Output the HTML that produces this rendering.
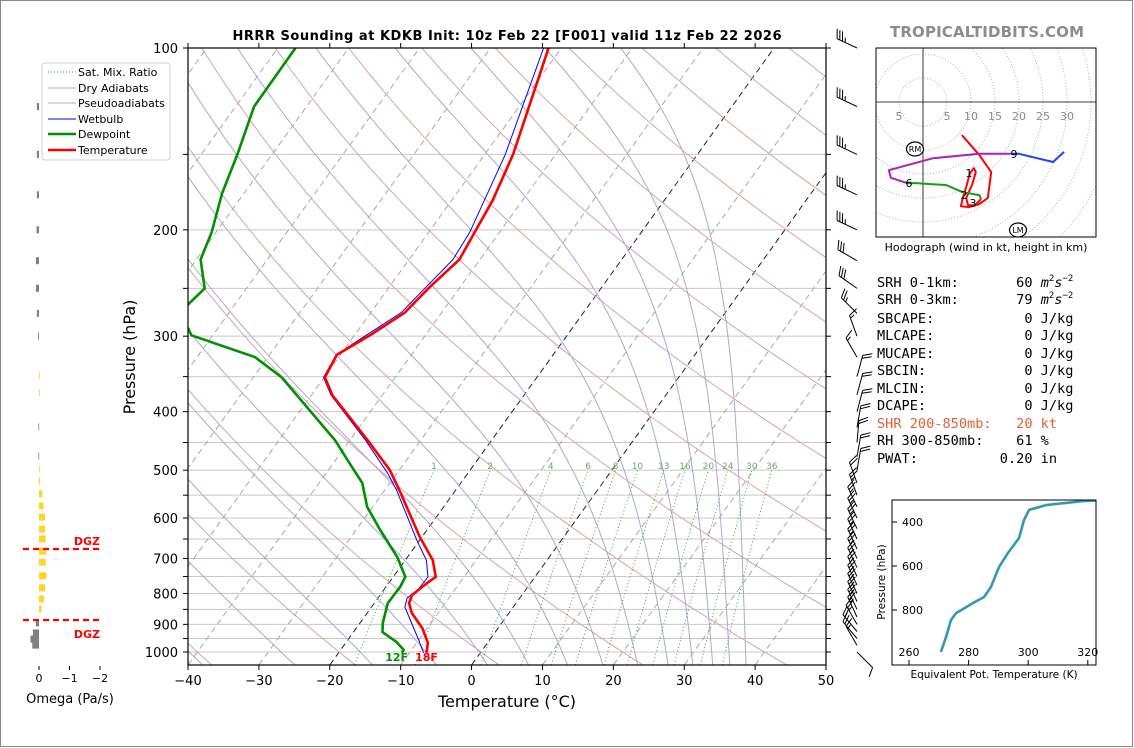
<!DOCTYPE html>
<html><head><meta charset="utf-8"><style>
html,body{margin:0;padding:0;background:#fff}
svg{display:block}
text{font-family:"DejaVu Sans","Liberation Sans",sans-serif}
.mono{font-family:"DejaVu Sans Mono","Liberation Mono",monospace}
</style></head><body>
<svg id="root" width="1134" height="748" viewBox="0 0 1134 748" xmlns="http://www.w3.org/2000/svg">
<rect x="0.5" y="0.5" width="1132" height="746" fill="#fff" stroke="#8a8a8a"/>
<defs>
<clipPath id="skewclip"><rect x="188" y="48" width="638" height="617"/></clipPath>
<clipPath id="hodoclip"><rect x="876" y="48" width="220" height="189"/></clipPath>
<clipPath id="theclip"><rect x="892" y="500" width="204" height="165"/></clipPath>
</defs>
<text x="507" y="40" text-anchor="middle" font-size="13" font-weight="bold" textLength="549">HRRR Sounding at KDKB Init: 10z Feb 22 [F001] valid 11z Feb 22 2026</text>
<text x="987" y="37" text-anchor="middle" font-size="15" font-weight="bold" fill="#8c8c8c" textLength="194">TROPICALTIDBITS.COM</text>
<g id="skew" clip-path="url(#skewclip)"></g>
<g id="skewaxes"></g>
<g id="barbs"></g>
<g id="omega"></g>
<g id="hodo"></g>
<g id="thetae"></g>
<g id="stats" class="mono" font-size="13.6">
<text class="mono" x="877" y="287" xml:space="preserve">SRH 0-1km:       60 <tspan font-style="italic">m</tspan><tspan font-size="9" dy="-6">2</tspan><tspan font-style="italic" dy="6">s</tspan><tspan font-size="9" dy="-6">−2</tspan></text>
<text class="mono" x="877" y="304" xml:space="preserve">SRH 0-3km:       79 <tspan font-style="italic">m</tspan><tspan font-size="9" dy="-6">2</tspan><tspan font-style="italic" dy="6">s</tspan><tspan font-size="9" dy="-6">−2</tspan></text>
<text class="mono" x="877" y="323" xml:space="preserve">SBCAPE:           0 J/kg</text>
<text class="mono" x="877" y="340" xml:space="preserve">MLCAPE:           0 J/kg</text>
<text class="mono" x="877" y="358" xml:space="preserve">MUCAPE:           0 J/kg</text>
<text class="mono" x="877" y="375" xml:space="preserve">SBCIN:            0 J/kg</text>
<text class="mono" x="877" y="393" xml:space="preserve">MLCIN:            0 J/kg</text>
<text class="mono" x="877" y="410" xml:space="preserve">DCAPE:            0 J/kg</text>
<text class="mono" x="877" y="428" fill="#e35f36" xml:space="preserve">SHR 200-850mb:   20 kt</text>
<text class="mono" x="877" y="445" xml:space="preserve">RH 300-850mb:    61 %</text>
<text class="mono" x="877" y="463" xml:space="preserve">PWAT:          0.20 in</text>
</g>
<g id="legend">
<rect x="42" y="63" width="128" height="97" rx="3" fill="#fff" fill-opacity="0.85" stroke="#d0d0d0"/>
<line x1="48" y1="72" x2="76" y2="72" stroke="#4a9a4a" stroke-dasharray="1,2"/>
<text x="78" y="76" font-size="11">Sat. Mix. Ratio</text>
<line x1="48" y1="88" x2="76" y2="88" stroke="#d9a3a3"/>
<text x="78" y="92" font-size="11">Dry Adiabats</text>
<line x1="48" y1="103" x2="76" y2="103" stroke="#a8a8d8"/>
<text x="78" y="107" font-size="11">Pseudoadiabats</text>
<line x1="48" y1="119" x2="76" y2="119" stroke="#0000ff"/>
<text x="78" y="123" font-size="11">Wetbulb</text>
<line x1="48" y1="134" x2="76" y2="134" stroke="#009000" stroke-width="2.5"/>
<text x="78" y="138" font-size="11">Dewpoint</text>
<line x1="48" y1="150" x2="76" y2="150" stroke="#ff0000" stroke-width="2.5"/>
<text x="78" y="154" font-size="11">Temperature</text>
</g>
</svg>
<script>
// ---------- data ----------
const tempP = [1003,966,913,862,830,805,769,751,705,645,540,500,446,376,351,322,299,274,249,224,202,179,150,100];
const tempT = [-7.6,-8.4,-10.7,-13.7,-15.1,-15.5,-14.6,-14.0,-16.1,-20.3,-27.9,-31.3,-37.5,-47.0,-49.9,-50.5,-47.8,-45.2,-44.3,-42.9,-43.5,-44.2,-46.0,-51.8];
const dewP = [1003,992,963,927,895,830,780,751,697,628,575,525,487,446,351,325,299,291,280,266,250,224,202,174,150,125,100];
const dewT = [-11.1,-11.1,-12.9,-15.9,-16.8,-18.1,-18.0,-18.3,-21.4,-26.6,-30.8,-33.9,-37.7,-42.1,-56.0,-61.8,-73.0,-74.2,-80.0,-76.6,-75.9,-79.4,-80.6,-83.1,-84.9,-87.4,-87.5];
const wbP = [1003,955,909,842,814,787,751,705,653,540,506,446,376,351,322,274,224,202,150,100];
const wbT = [-8.0,-10.0,-12.1,-15.3,-15.9,-15.2,-15.1,-17.0,-20.4,-28.3,-31.3,-37.8,-47.2,-50.1,-50.6,-45.7,-43.8,-44.2,-47.1,-52.5];
const mixRatios = [1,2,4,6,8,10,13,16,20,24,30,36];
const isobars = [100,150,200,250,300,350,400,450,500,550,600,650,700,750,800,850,900,950,1000];
const pTickLabels = [100,200,300,400,500,600,700,800,900,1000];
const tTickLabels = [-40,-30,-20,-10,0,10,20,30,40,50];
const dryT0 = [-60,-40,-20,0,20,40,60,80,100,120,140,160,180,200,220,240];
const moistT0 = [-38,-25,-14,-5,2.2,8,13.5,18.5,23.4,27.7,31.2,34,36.4,38.7];
const barbP = [100,125,150,175,200,225,250,275,300,325,350,375,400,425,450,475,500,525,550,575,600,625,650,675,700,725,750,775,800,825,850,875,900,925,950,975,1000];
const barbDir = [295,295,295,295,295,300,305,315,340,330,15,15,15,10,5,10,10,340,340,335,335,335,335,335,335,335,335,335,335,335,335,335,330,320,320,330,135];
const barbSpd = [35,35,35,35,35,30,30,25,15,15,20,20,20,20,20,20,20,20,25,25,25,25,25,25,25,25,25,25,25,25,25,25,25,20,20,15,10];
const omegaP = [125,150,175,200,225,250,275,300,349,372,424,474,498,521,547,573,598,626,650,681,710,748,783,817,849,895,930,952,974];
const omegaVal = [0.07,0.07,0.07,0.08,0.1,0.1,0.07,0.03,-0.02,-0.02,0.02,0.02,-0.02,-0.04,-0.11,-0.15,-0.2,-0.2,-0.22,-0.23,-0.22,-0.24,-0.2,-0.16,-0.08,0.1,0.2,0.28,0.22];
const omegaTicks = [0,-1,-2];
const hodoRedU = [8.1,11.7,14.2,13.5,11.7,9.6,7.9,8.3,9.0,9.8,10.6,11.0,10.2,9.0,9.4,10.8,12.1];
const hodoRedV = [-6.9,-11.0,-14.6,-20.0,-21.3,-21.9,-21.7,-20.0,-17.7,-14.8,-13.8,-14.6,-17.3,-20.0,-21.5,-21.5,-20.2];
const hodoGreenU = [12.1,11.7,8.3,4.8,1.5,-1.5,-3.3];
const hodoGreenV = [-20.2,-19.4,-18.8,-17.3,-17.1,-16.9,-16.9];
const hodoPurpleU = [-3.3,-6.7,-7.1,2.1,11.7,18.3];
const hodoPurpleV = [-16.9,-15.8,-14.2,-11.7,-10.8,-10.8];
const hodoBlueU = [18.3,20.0,22.9,27.1,29.4];
const hodoBlueV = [-10.8,-10.8,-11.5,-12.5,-10.4];
const hodoRingLabels = [-5,5,10,15,20,25,30];
const thetaE = [270.7,272.4,274.1,275.8,281.5,285.2,287.5,290.2,293.2,296.9,298.6,300.3,306,318.4,330];
const thetaEP = [991,923,845,814,768,741,695,605,541,473,391,345,323,305,298];
const thetaXTicks = [260,280,300,320];
const thetaYTicks = [400,600,800];

// ---------- helpers ----------
const NS = 'http://www.w3.org/2000/svg';
function mk(tag, parent, attrs){const e=document.createElementNS(NS,tag);for(const k in attrs)e.setAttribute(k,attrs[k]);parent.appendChild(e);return e;}
const yP = p => 652 + 604*Math.log10(p/1000);
const xT = (T,p) => 188 + (T+40)*7.089 + 0.72*(665 - yP(p));
const skew = document.getElementById('skew');
const axes = document.getElementById('skewaxes');
function polyPts(Ps,Ts){return Ps.map((p,i)=>xT(Ts[i],p).toFixed(1)+','+yP(p).toFixed(1)).join(' ');}

isobars.forEach(p=>{
  const l=mk('line',skew,{x1:188,x2:826,y1:yP(p),y2:yP(p),stroke:'#c8c8c8','stroke-width':1});
  
  
});
for(let T=-140;T<=50;T+=10){
  const blk=(T===0||T===-20);
  const l=mk('line',skew,{x1:xT(T,1050),y1:yP(1050),x2:xT(T,100),y2:yP(100),stroke:blk?'#222':'#a8a8a8','stroke-width':1,'stroke-dasharray':'6,4'});
  
  
}
dryT0.forEach(t0=>{
  const Ps=[],Ts=[];
  for(let p=1050;p>=100;p-=10){Ps.push(p);Ts.push((t0+273.15)*Math.pow(p/1000,0.286)-273.15);}
  const l=mk('polyline',skew,{points:polyPts(Ps,Ts),fill:'none',stroke:'#d9a3a3','stroke-width':1});
  
  
});
function es(T){return 6.112*Math.exp(17.67*T/(T+243.5));}
function dTdp(p,TK){const Tc=TK-273.15;const e=es(Tc);const rs=0.622*e/(p-e);
  return (287.04*TK+2.501e6*rs)/(p*(1005.7+2.501e6*2.501e6*rs*0.622/(287.04*TK*TK)));}
moistT0.forEach(t0=>{
  const Ps=[1050],Ts=[t0];let T=t0+273.15;
  for(let p=1050;p>100;p-=5){const h=-5;
    const k1=dTdp(p,T),k2=dTdp(p+h/2,T+h/2*k1),k3=dTdp(p+h/2,T+h/2*k2),k4=dTdp(p+h,T+h*k3);
    T+=h/6*(k1+2*k2+2*k3+k4);Ps.push(p+h);Ts.push(T-273.15);}
  const l=mk('polyline',skew,{points:polyPts(Ps,Ts),fill:'none',stroke:'#a8a8d8','stroke-width':1});
  
  
});
function tdFromW(w,p){const e=w*p/(622+w);const a=Math.log(e/6.112);return 243.5*a/(17.67-a);}
mixRatios.forEach(w=>{
  const Ps=[],Ts=[];
  for(let p=1050;p>=500;p-=10){Ps.push(p);Ts.push(tdFromW(w,p));}
  const l=mk('polyline',skew,{points:polyPts(Ps,Ts),fill:'none',stroke:'#4a9a4a','stroke-width':1,'stroke-dasharray':'1,2.5'});
  
  
  const t=mk('text',skew,{x:xT(tdFromW(w,500),500),y:yP(500)-1,'font-size':9,fill:'#6aa86a','text-anchor':'middle'});
  t.textContent=w;
  
  
});
const wb=mk('polyline',skew,{points:polyPts(wbP,wbT),fill:'none',stroke:'#0000ff','stroke-width':1});


const dw=mk('polyline',skew,{points:polyPts(dewP,dewT),fill:'none',stroke:'#009000','stroke-width':2.6,'stroke-linejoin':'round'});


const tl=mk('polyline',skew,{points:polyPts(tempP,tempT),fill:'none',stroke:'#ff0000','stroke-width':2.6,'stroke-linejoin':'round'});


const l12=mk('text',axes,{x:xT(dewT[0],tempP[0])-5,y:661,'font-size':11,'font-weight':'bold',fill:'#009000','text-anchor':'middle'});
l12.textContent='12F';


const l18=mk('text',axes,{x:xT(tempT[0],tempP[0])+0,y:661,'font-size':11,'font-weight':'bold',fill:'#ff0000','text-anchor':'middle'});
l18.textContent='18F';



const fr=mk('rect',axes,{x:188,y:48,width:638,height:617,fill:'none',stroke:'#000','stroke-width':1.2});


isobars.forEach(p=>{
  const y=yP(p);
  const a=mk('line',axes,{x1:183,x2:188,y1:y,y2:y,stroke:'#000'});
  
  
  const b=mk('line',axes,{x1:826,x2:831,y1:y,y2:y,stroke:'#000'});
  
  
});
pTickLabels.forEach(p=>{
  const t=mk('text',axes,{x:178,y:yP(p)+5,'font-size':13,'text-anchor':'end'});
  t.textContent=p;
  
  
});
tTickLabels.forEach(T=>{
  const x=188+(T+40)*7.089;
  const a=mk('line',axes,{x1:x,x2:x,y1:665,y2:670,stroke:'#000'});
  
  
  const b=mk('line',axes,{x1:x,x2:x,y1:43,y2:48,stroke:'#000'});
  
  
  const t=mk('text',axes,{x:x,y:685,'font-size':13,'text-anchor':'middle'});
  t.textContent=(T<0?'\u2212'+(-T):T);
  
  
});
const xl=mk('text',axes,{x:507,y:707,'font-size':16,'text-anchor':'middle'});
xl.textContent='Temperature (°C)';


const yl=mk('text',axes,{x:0,y:0,'font-size':16,'text-anchor':'middle',transform:'translate(135,357) rotate(-90)'});
yl.textContent='Pressure (hPa)';



// wind barbs
const bg=document.getElementById('barbs');
barbP.forEach((p,i)=>{
  const d=barbDir[i]*Math.PI/180, s=barbSpd[i];
  const bx=857, by=yP(p), L=22;
  const ux=Math.sin(d), uy=-Math.cos(d);
  const px=-uy, py=ux;
  const tx=bx+ux*L, ty=by+uy*L;
  let dstr=`M${bx.toFixed(1)},${by.toFixed(1)}L${tx.toFixed(1)},${ty.toFixed(1)}`;
  let full=Math.floor(s/10), half=(s%10)>=5?1:0, pos=0;
  for(let k=0;k<full;k++){const sx=tx-ux*pos, sy=ty-uy*pos;
    dstr+=`M${sx.toFixed(1)},${sy.toFixed(1)}l${((px+0.45*ux)*9).toFixed(1)},${((py+0.45*uy)*9).toFixed(1)}`;pos+=3;}
  if(half){if(full===0)pos=3;const sx=tx-ux*pos, sy=ty-uy*pos;
    dstr+=`M${sx.toFixed(1)},${sy.toFixed(1)}l${((px+0.45*ux)*4.5).toFixed(1)},${((py+0.45*uy)*4.5).toFixed(1)}`;}
  const b=mk('path',bg,{d:dstr,fill:'none',stroke:'#000','stroke-width':1});
  
  
});

// omega panel
const og=document.getElementById('omega');
const ox = v => 39 - v*30.5;
omegaP.forEach((p,i)=>{
  const v=omegaVal[i], y=yP(p);
  const x0=Math.min(ox(0),ox(v)), w=Math.abs(ox(v)-ox(0));
  const r=mk('rect',og,{x:x0,y:y-3.5,width:Math.max(w,0.8),height:7,fill:v<0?'#fcd42a':'#808080'});
  
  
});
omegaTicks.forEach(v=>{
  const a=mk('line',og,{x1:ox(v),x2:ox(v),y1:666,y2:670,stroke:'#000'});
  
  
  const t=mk('text',og,{x:ox(v),y:682,'font-size':11,'text-anchor':'middle'});
  t.textContent=(v<0?'\u2212'+(-v):v);
  
  
});
const ot=mk('text',og,{x:70,y:703,'font-size':13,'text-anchor':'middle'});
ot.textContent='Omega (Pa/s)';


[[549,541,'dgz-top'],[620,634,'dgz-bottom']].forEach(a=>{
  const l=mk('line',og,{x1:23,x2:99,y1:a[0],y2:a[0],stroke:'#ff0000','stroke-width':2.2,'stroke-dasharray':'6,4'});
  
  
  const t=mk('text',og,{x:100,y:a[1]+4,'font-size':11,'font-weight':'bold',fill:'#ff0000','text-anchor':'end'});
  t.textContent='DGZ';
  
  
});

// hodograph
const hg=document.getElementById('hodo');
const hx=u=>923+u*4.8, hy=v=>102-v*4.8;
const hc=mk('g',hg,{'clip-path':'url(#hodoclip)'});
for(let k=1;k<=9;k++){
  const c=mk('circle',hc,{cx:923,cy:102,r:24*k,fill:'none',stroke:'#b0b0b0','stroke-dasharray':'1,2','stroke-width':1});
  
  
}
mk('line',hc,{x1:923,x2:923,y1:48,y2:237,stroke:'#000','stroke-width':0.8});
mk('line',hc,{x1:876,x2:1096,y1:102,y2:102,stroke:'#000','stroke-width':0.8});
hodoRingLabels.forEach(v=>{
  const t=mk('text',hc,{x:hx(v),y:120,'font-size':11,fill:'#888','text-anchor':'middle'});
  t.textContent=Math.abs(v);
  
  
});
[[hodoRedU,hodoRedV,'#ff0000','hodo-0-3km'],[hodoGreenU,hodoGreenV,'#1a9a1a','hodo-3-6km'],[hodoPurpleU,hodoPurpleV,'#b020b0','hodo-6-9km'],[hodoBlueU,hodoBlueV,'#2040ff','hodo-9km-plus']].forEach(s=>{
  const pts=s[0].map((u,i)=>hx(u).toFixed(1)+','+hy(s[1][i]).toFixed(1)).join(' ');
  const l=mk('polyline',hc,{points:pts,fill:'none',stroke:s[2],'stroke-width':2,'stroke-linejoin':'round'});
  
  
});
[['1',969,177],['2',964,199],['3',973,207],['6',909,187],['9',1014,158]].forEach(a=>{
  const t=mk('text',hc,{x:a[1],y:a[2],'font-size':11,'text-anchor':'middle',fill:'#000'});
  t.textContent=a[0];
  
  
});
[['RM',915,149],['LM',1018,230]].forEach(a=>{
  mk('ellipse',hc,{cx:a[1],cy:a[2],rx:8.5,ry:7,fill:'#fff',stroke:'#000','stroke-width':1.2});
  const t=mk('text',hc,{x:a[1],y:a[2]+3,'font-size':8,'text-anchor':'middle'});
  t.textContent=a[0];
  
  
});
const hb=mk('rect',hg,{x:876,y:48,width:220,height:189,fill:'none',stroke:'#000','stroke-width':1});


const hcap=mk('text',hg,{x:986,y:251,'font-size':11,'text-anchor':'middle'});
hcap.textContent='Hodograph (wind in kt, height in km)';



// theta-e inset
const tg=document.getElementById('thetae');
const ex=t=>909+(t-260)*2.98, ey=p=>522+(p-400)*0.22;
const tcl=mk('g',tg,{'clip-path':'url(#theclip)'});
const tpts=thetaE.map((t,i)=>ex(t).toFixed(1)+','+ey(thetaEP[i]).toFixed(1)).join(' ');
const tline=mk('polyline',tcl,{points:tpts,fill:'none',stroke:'#3399b3','stroke-width':2.6,'stroke-linejoin':'round'});


const tb=mk('rect',tg,{x:892,y:500,width:204,height:165,fill:'none',stroke:'#000','stroke-width':1});


thetaXTicks.forEach(t=>{
  mk('line',tg,{x1:ex(t),x2:ex(t),y1:660,y2:665,stroke:'#000'});
  const tx=mk('text',tg,{x:ex(t),y:656,'font-size':11,'text-anchor':'middle'});
  tx.textContent=t;
  
  
});
thetaYTicks.forEach(p=>{
  mk('line',tg,{x1:892,x2:897,y1:ey(p),y2:ey(p),stroke:'#000'});
  const tx=mk('text',tg,{x:902,y:ey(p)+4,'font-size':11});
  tx.textContent=p;
  
  
});
const tx1=mk('text',tg,{x:994,y:678,'font-size':10.5,'text-anchor':'middle'});
tx1.textContent='Equivalent Pot. Temperature (K)';


const ty1=mk('text',tg,{x:0,y:0,'font-size':10.5,'text-anchor':'middle',transform:'translate(885,582) rotate(-90)'});
ty1.textContent='Pressure (hPa)';


</script>
</body></html>
